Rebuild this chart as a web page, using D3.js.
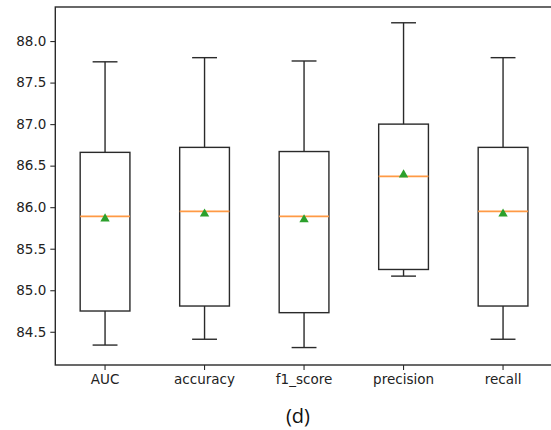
<!DOCTYPE html>
<html>
<head>
<meta charset="utf-8">
<script src="https://cdn.jsdelivr.net/npm/d3@7"></script>
<style>
  body { margin: 0; background: #fff; }
  svg { display: block; }
</style>
</head>
<body>
<svg></svg>
<script>
// Box plot data
let categories = ['AUC', 'accuracy', 'f1_score', 'precision', 'recall'];
let whiskerLow = [84.34, 84.41, 84.31, 85.17, 84.41];
let q1 = [84.75, 84.81, 84.73, 85.25, 84.81];
let medians = [85.89, 85.95, 85.89, 86.37, 85.95];
let q3 = [86.66, 86.72, 86.67, 87.00, 86.72];
let whiskerHigh = [87.75, 87.80, 87.76, 88.22, 87.80];
let means = [85.87, 85.93, 85.86, 86.40, 85.93];
let yTicks = [84.5, 85.0, 85.5, 86.0, 86.5, 87.0, 87.5, 88.0];
let caption = '(d)';

// SVG Dimensions
let width = 551, height = 430;
let padLeft = 55.3, padRight = 552.8, padTop = 7, padBottom = 365;

let svg = d3.select('svg').attr('width', width).attr('height', height);

let xScale = d3.scaleBand()
    .domain(categories)
    .range([padLeft, padRight])
    .padding(0);

let yScale = d3.scaleLinear()
    .domain([84.10, 88.41])
    .range([padBottom, padTop]);

let rows = categories.map((c, i) => {
    return { name: c, lo: whiskerLow[i], q1: q1[i], med: medians[i], q3: q3[i], hi: whiskerHigh[i], mean: means[i] };
});

let ink = '#2a2a2a';
let lw = 1.4;
let boxW = xScale.bandwidth() * 0.5;
let capW = xScale.bandwidth() * 0.25;
let cx = (d) => { return xScale(d.name) + xScale.bandwidth() / 2 };

let g = svg.append('g');

// Whiskers
g.selectAll('.whisker-lo')
    .data(rows).enter().append('line')
    .attr('x1', cx).attr('x2', cx)
    .attr('y1', (d) => yScale(d.q1)).attr('y2', (d) => yScale(d.lo))
    .attr('stroke', ink).attr('stroke-width', lw);
g.selectAll('.whisker-hi')
    .data(rows).enter().append('line')
    .attr('x1', cx).attr('x2', cx)
    .attr('y1', (d) => yScale(d.q3)).attr('y2', (d) => yScale(d.hi))
    .attr('stroke', ink).attr('stroke-width', lw);

// Caps
['lo', 'hi'].forEach((k) => {
    g.selectAll('.cap-' + k)
        .data(rows).enter().append('line')
        .attr('x1', (d) => cx(d) - capW / 2).attr('x2', (d) => cx(d) + capW / 2)
        .attr('y1', (d) => yScale(d[k])).attr('y2', (d) => yScale(d[k]))
        .attr('stroke', ink).attr('stroke-width', lw);
});

// Boxes
g.selectAll('rect.box')
    .data(rows).enter().append('rect')
    .attr('class', 'box')
    .attr('x', (d) => cx(d) - boxW / 2)
    .attr('y', (d) => yScale(d.q3))
    .attr('width', boxW)
    .attr('height', (d) => yScale(d.q1) - yScale(d.q3))
    .attr('fill', 'none')
    .attr('stroke', ink).attr('stroke-width', lw);

// Medians
g.selectAll('.median')
    .data(rows).enter().append('line')
    .attr('x1', (d) => cx(d) - boxW / 2).attr('x2', (d) => cx(d) + boxW / 2)
    .attr('y1', (d) => yScale(d.med)).attr('y2', (d) => yScale(d.med))
    .attr('stroke', '#ff9a45').attr('stroke-width', 1.7);

// Means (green triangles)
let tri = d3.symbol().type(d3.symbolTriangle).size(38);
g.selectAll('.mean')
    .data(rows).enter().append('path')
    .attr('d', tri)
    .attr('transform', (d) => `translate(${cx(d)}, ${yScale(d.mean) + 0.8})`)
    .attr('fill', '#2ca02c');

// Axes
let yAxis = d3.axisLeft(yScale).tickValues(yTicks).tickFormat(d3.format('.1f')).tickSize(5).tickPadding(4);
let yG = svg.append('g')
    .attr('transform', `translate(${padLeft}, 0)`)
    .call(yAxis);

let xAxis = d3.axisBottom(xScale).tickSize(5).tickPadding(4);
let xG = svg.append('g')
    .attr('transform', `translate(0, ${padBottom})`)
    .call(xAxis);

[yG, xG].forEach((a) => {
    a.select('.domain').remove();
    a.selectAll('line').attr('stroke', ink).attr('stroke-width', 1.1);
    a.selectAll('text')
        .attr('fill', '#222')
        .style('font-family', 'DejaVu Sans')
        .style('font-size', '13.5px');
});

// Frame
svg.append('rect')
    .attr('x', padLeft).attr('y', padTop)
    .attr('width', padRight - padLeft).attr('height', padBottom - padTop)
    .attr('fill', 'none')
    .attr('stroke', ink).attr('stroke-width', lw);

// Caption
svg.append('text')
    .attr('x', 298).attr('y', 423)
    .attr('text-anchor', 'middle')
    .style('font-family', 'Open Sans')
    .style('font-size', '20px')
    .attr('fill', '#111')
    .text(caption);
</script>
</body>
</html>
